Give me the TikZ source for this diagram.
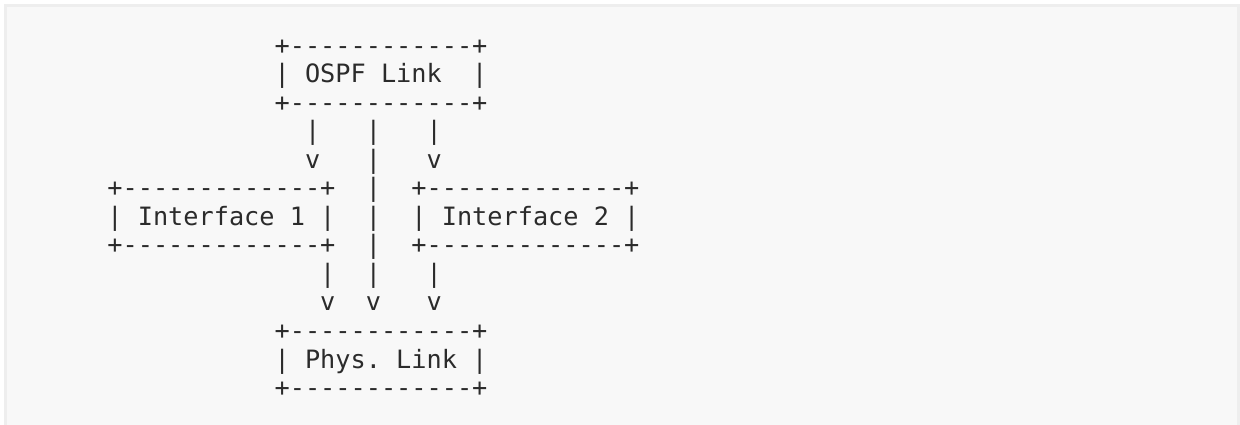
\documentclass[tikz,border=0pt]{standalone}
\usepackage{fontspec}
\setmonofont{DejaVu Sans Mono}
\definecolor{ink}{HTML}{2B2B2B}
\definecolor{panelfill}{HTML}{F8F8F8}
\definecolor{panelline}{HTML}{EEEEEE}
\newcommand{\xzero}{107.4}
\newcommand{\colw}{15.2}
\newcommand{\yzero}{370.8}
\newcommand{\rowh}{28.53}
\begin{document}
\begin{tikzpicture}[x=1pt,y=1pt,
  txt/.style={anchor=base west, inner sep=0pt, outer sep=0pt,
    font=\ttfamily\fontsize{25.25}{28}\selectfont, text=ink},
  panel/.style={fill=panelfill, draw=panelline, line width=3pt}]
\useasboundingbox (0,0) rectangle (1240,425);
\fill[white] (0,0) rectangle (1240,425);
\begin{scope}
\clip (0,0) rectangle (1240,425);
\draw[panel] (5.5,-10) rectangle (1238.5,419.5);
\end{scope}
% OSPF Link box
\node[txt] (o0) at ({\xzero+11*\colw},{\yzero-0*\rowh}) {+------------+};
\node[txt] (o1) at ({\xzero+11*\colw},{\yzero-1*\rowh}) {|~OSPF~Link~~|};
\node[txt] (o2) at ({\xzero+11*\colw},{\yzero-2*\rowh}) {+------------+};
% arrows from OSPF Link
\node[txt] (a3l) at ({\xzero+13*\colw},{\yzero-3*\rowh}) {|};
\node[txt] (a3m) at ({\xzero+17*\colw},{\yzero-3*\rowh}) {|};
\node[txt] (a3r) at ({\xzero+21*\colw},{\yzero-3*\rowh}) {|};
\node[txt] (a4l) at ({\xzero+13*\colw},{\yzero-4*\rowh}) {v};
\node[txt] (a4m) at ({\xzero+17*\colw},{\yzero-4*\rowh}) {|};
\node[txt] (a4r) at ({\xzero+21*\colw},{\yzero-4*\rowh}) {v};
% Interface boxes
\node[txt] (i10) at ({\xzero+0*\colw},{\yzero-5*\rowh}) {+-------------+};
\node[txt] (i11) at ({\xzero+0*\colw},{\yzero-6*\rowh}) {|~Interface~1~|};
\node[txt] (i12) at ({\xzero+0*\colw},{\yzero-7*\rowh}) {+-------------+};
\node[txt] (m5) at ({\xzero+17*\colw},{\yzero-5*\rowh}) {|};
\node[txt] (m6) at ({\xzero+17*\colw},{\yzero-6*\rowh}) {|};
\node[txt] (m7) at ({\xzero+17*\colw},{\yzero-7*\rowh}) {|};
\node[txt] (i20) at ({\xzero+20*\colw},{\yzero-5*\rowh}) {+-------------+};
\node[txt] (i21) at ({\xzero+20*\colw},{\yzero-6*\rowh}) {|~Interface~2~|};
\node[txt] (i22) at ({\xzero+20*\colw},{\yzero-7*\rowh}) {+-------------+};
% arrows to Phys. Link
\node[txt] (b8l) at ({\xzero+14*\colw},{\yzero-8*\rowh}) {|};
\node[txt] (b8m) at ({\xzero+17*\colw},{\yzero-8*\rowh}) {|};
\node[txt] (b8r) at ({\xzero+21*\colw},{\yzero-8*\rowh}) {|};
\node[txt] (b9l) at ({\xzero+14*\colw},{\yzero-9*\rowh}) {v};
\node[txt] (b9m) at ({\xzero+17*\colw},{\yzero-9*\rowh}) {v};
\node[txt] (b9r) at ({\xzero+21*\colw},{\yzero-9*\rowh}) {v};
% Phys. Link box
\node[txt] (p0) at ({\xzero+11*\colw},{\yzero-10*\rowh}) {+------------+};
\node[txt] (p1) at ({\xzero+11*\colw},{\yzero-11*\rowh}) {|~Phys.~Link~|};
\node[txt] (p2) at ({\xzero+11*\colw},{\yzero-12*\rowh}) {+------------+};
\end{tikzpicture}
\end{document}
